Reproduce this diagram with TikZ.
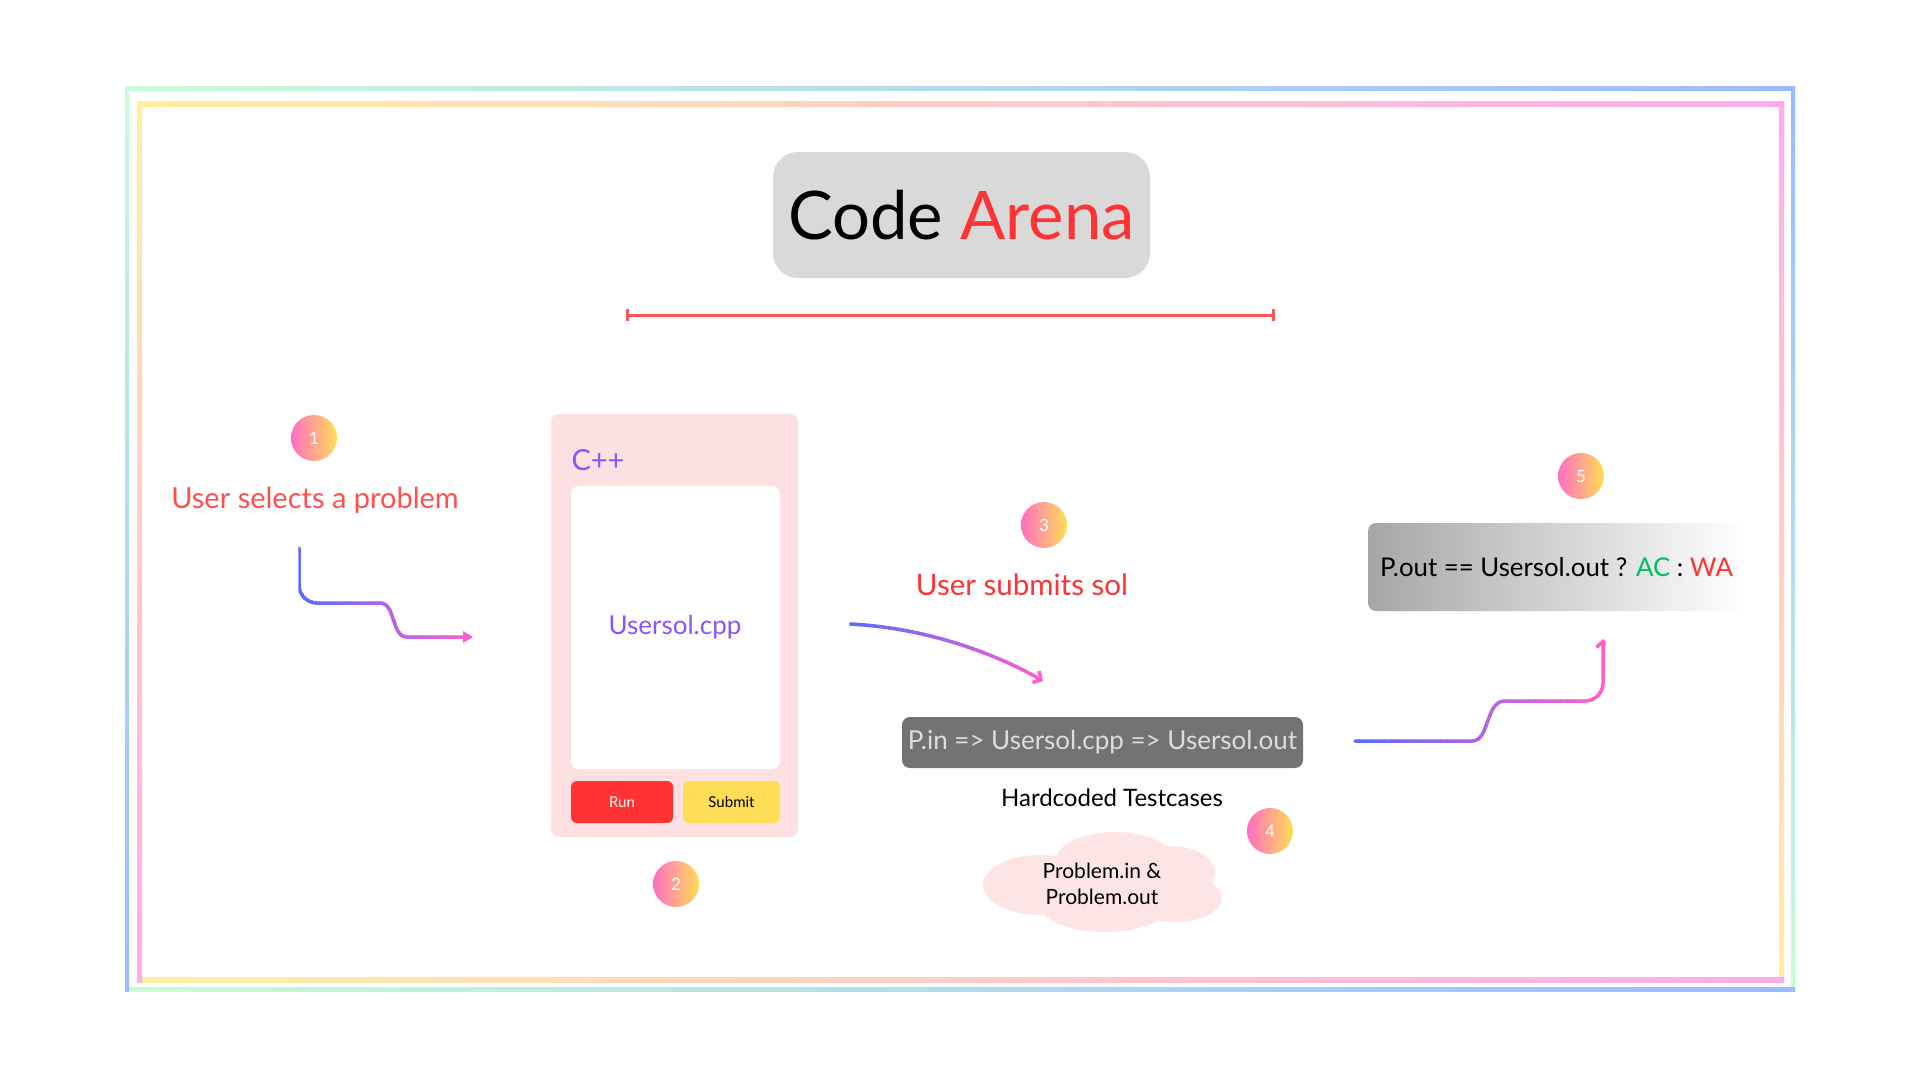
\documentclass[tikz,border=0pt]{standalone}
\usepackage{fontspec}
\setmainfont{Lato}
\usetikzlibrary{arrows.meta}
\definecolor{fgreen}{HTML}{C8FCD8}
\definecolor{fblue}{HTML}{99BBFF}
\definecolor{fyellow}{HTML}{FFF0A0}
\definecolor{fpink}{HTML}{FFAAEE}
\definecolor{titlegray}{HTML}{D9D9D9}
\definecolor{arenared}{HTML}{FF3333}
\definecolor{softred}{HTML}{FF5050}
\definecolor{linered}{HTML}{FF5555}
\definecolor{badgepink}{HTML}{FF6EC4}
\definecolor{badgeyellow}{HTML}{FFDD55}
\definecolor{panelpink}{HTML}{FDE0E1}
\definecolor{codepurple}{HTML}{8C52FF}
\definecolor{runred}{HTML}{FF3333}
\definecolor{submityellow}{HTML}{FFDD57}
\definecolor{boxgray}{HTML}{737373}
\definecolor{boxtext}{HTML}{DDDDDD}
\definecolor{cloudpink}{HTML}{FDE4E5}
\definecolor{leftgray}{HTML}{A6A6A6}
\definecolor{acgreen}{HTML}{00BF63}
\definecolor{arrowblue}{HTML}{5B6CFF}
\definecolor{arrowpink}{HTML}{FF5FCF}
% gradient stroke along x, by clipped vertical strips
\newcommand{\gradstroke}[4]{%
  \foreach \i in {0,...,39}{%
    \pgfmathsetmacro{\xa}{#1+(#2-#1)*\i/40-0.6}%
    \pgfmathsetmacro{\xb}{#1+(#2-#1)*(\i+1)/40+0.6}%
    \pgfmathtruncatemacro{\pc}{100*\i/39}%
    \begin{scope}
      \clip (\xa,0) rectangle (\xb,1080);
      \draw[#3, color=arrowpink!\pc!arrowblue] #4;
    \end{scope}
  }%
}
\tikzset{
  badge/.style={circle, minimum size=46pt, inner sep=0pt, left color=badgepink, right color=badgeyellow, text=white, font=\fontsize{17}{20}\selectfont},
  flowline/.style={line width=3.5pt, line cap=round, line join=round},
  btn/.style={rounded corners=6pt, minimum width=#1, minimum height=42pt, inner sep=0pt, font=\fontsize{15}{18}\selectfont},
}
\begin{document}
\begin{tikzpicture}[x=1pt,y=-1pt]
\useasboundingbox (0,0) rectangle (1920,1080);
\fill[white] (0,0) rectangle (1920,1080);
% outer frame
\shade[left color=fgreen, right color=fblue] (125,86) rectangle (1795,90);
\shade[top color=fblue, bottom color=fgreen] (1791,86) rectangle (1795,991);
\shade[left color=fgreen, right color=fblue] (125,987) rectangle (1795,991);
\shade[top color=fgreen, bottom color=fblue] (125,86) rectangle (129,991);
% inner frame
\shade[left color=fyellow, right color=fpink] (137,101) rectangle (1784,106);
\shade[top color=fpink, bottom color=fyellow] (1779,101) rectangle (1784,982);
\shade[left color=fyellow, right color=fpink] (137,977) rectangle (1784,982);
\shade[top color=fyellow, bottom color=fpink] (137,101) rectangle (142,982);

% title
\node[fill=titlegray, rounded corners=25pt, minimum width=377pt, minimum height=126pt, inner sep=0pt,
      font=\fontsize{67}{80}\selectfont] (title) at (961.5,215) {Code \textcolor{arenared}{Arena}};
\coordinate (ulL) at (626,315);
\coordinate (ulR) at (1275,315);
\draw[linered, line width=3pt, {Bar[width=12pt]}-{Bar[width=12pt]}] (ulL) -- (ulR);

% step 1
\node[badge] (b1) at (314,438) {1};
\node[text=softred, font=\fontsize{29}{34}\selectfont] (t1) at (315,500) {User selects a problem};
\coordinate (a1s) at (299,548);
\coordinate (a1e) at (473,637);
\gradstroke{299}{475}{flowline, -{Triangle[length=10pt,width=11pt]}}{(a1s) -- (299,585) arc[start angle=180, end angle=90, radius=18] -- (380,603) .. controls (396,603) and (391,637) .. (407,637) -- (a1e)}

% editor panel
\node[fill=panelpink, rounded corners=8pt, minimum width=247pt, minimum height=423pt, inner sep=0pt] (panel) at (674.5,625.5) {};
\node[text=codepurple, anchor=west, font=\fontsize{29}{34}\selectfont] (cpp) at (568,460) {C++};
\node[fill=white, rounded corners=8pt, minimum width=209pt, minimum height=283pt, inner sep=0pt] (editor) at (675.5,627.5) {};
\node[text=codepurple, font=\fontsize{26}{32}\selectfont] (usersol) at (675,627) {Usersol.cpp};
\node[btn=102pt, fill=runred, text=white] (run) at (622,802) {Run};
\node[btn=97pt, fill=submityellow, text=black] (submit) at (731.5,802) {Submit};
\node[badge] (b2) at (676,884) {2};

% step 3
\node[badge] (b3) at (1044,525) {3};
\node[text=arenared, font=\fontsize{29.5}{35}\selectfont] (t3) at (1022,585) {User submits sol};
\coordinate (a2s) at (850,624);
\coordinate (a2e) at (1043,681);
\gradstroke{850}{1046}{flowline, -{Straight Barb[length=6pt,width=13pt]}}{(a2s) .. controls (930,628) and (1000,656) .. (a2e)}

% run box
\node[fill=boxgray, rounded corners=8pt, minimum width=401pt, minimum height=51pt, inner sep=0pt,
      text=boxtext, font=\fontsize{26}{30}\selectfont] (runbox) at (1102.5,742.5) {P.in => Usersol.cpp => Usersol.out};
\node[text=black, font=\fontsize{24}{28}\selectfont] (hard) at (1112,798) {Hardcoded Testcases};
\node[badge] (b4) at (1270,831) {4};
% cloud
\fill[cloudpink]
  (1040,885) ellipse [x radius=57, y radius=30]
  (1115,862) ellipse [x radius=60, y radius=30]
  (1170,872) ellipse [x radius=45, y radius=26]
  (1175,898) ellipse [x radius=47, y radius=24]
  (1105,905) ellipse [x radius=65, y radius=27];
\node[align=center, font=\fontsize{21}{26}\selectfont] (cloudtext) at (1102,884) {Problem.in \&\\Problem.out};

% step 5
\node[badge] (b5) at (1581,476) {5};
\node[rounded corners=8pt, left color=leftgray, right color=white, minimum width=377pt, minimum height=88pt, inner sep=0pt,
      font=\fontsize{25.8}{30}\selectfont] (cmp) at (1556.5,567) {P.out == Usersol.out ? \textcolor{acgreen}{AC} : \textcolor{arenared}{WA}};
\coordinate (a3s) at (1355,741);
\coordinate (a3e) at (1603,639);
\gradstroke{1353}{1605}{flowline, -{Straight Barb[length=6pt,width=13pt]}}{(a3s) -- (1472,741) .. controls (1490,741) and (1485,701) .. (1505,701) -- (1585,701) arc[start angle=90, end angle=0, radius=18] -- (a3e)}
\end{tikzpicture}
\end{document}
